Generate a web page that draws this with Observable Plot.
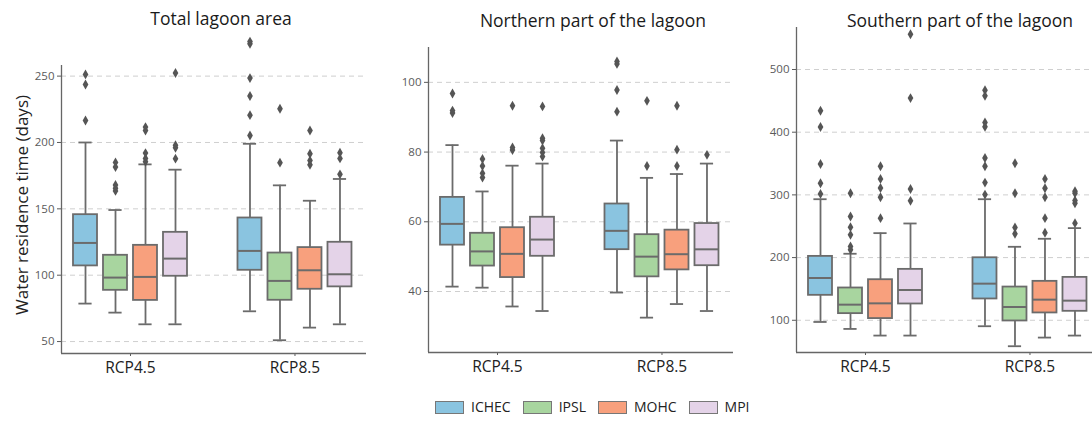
<!DOCTYPE html>
<html>
<head>
<meta charset="utf-8">
<script src="https://cdn.jsdelivr.net/npm/d3@7"></script>
<script src="https://cdn.jsdelivr.net/npm/@observablehq/plot@0.6"></script>
<style>
html, body { margin: 0; padding: 0; background: #fff; overflow: hidden; width: 1092px; height: 421px; }
body { position: relative; font-family: "Open Sans", sans-serif; }
.panel { position: absolute; top: 0; width: 366px; }
.panel svg { max-width: none !important; }
.title { position: absolute; font-size: 17.5px; line-height: 1; color: #1a1a1a; transform: translateX(-50%); white-space: nowrap; }
.ylabel { position: absolute; left: 21px; top: 205px; font-size: 17px; line-height: 1; color: #222; white-space: nowrap; transform: translate(-50%, -50%) rotate(-90deg); }
.legend { position: absolute; left: 435px; top: 400px; display: flex; align-items: center; gap: 12px; font-size: 14px; line-height: 1; color: #222; }
.legend .item { display: flex; align-items: center; gap: 7px; }
.legend .sw { width: 27px; height: 11px; border: 1.5px solid #777; }
</style>
</head>
<body>
<script>
// ---- categories ----
const scenarios = ["RCP4.5", "RCP8.5"];
const models = ["ICHEC", "IPSL", "MOHC", "MPI"];
const modelColors = ["#8ac4e0", "#a8d59f", "#f8a07d", "#e4d3e8"];

// ---- Total lagoon area (order: RCP4.5 ICHEC, IPSL, MOHC, MPI, RCP8.5 ICHEC, IPSL, MOHC, MPI) ----
const totalLow    = [78.6, 71.8, 63, 63, 72.8, 51, 60.5, 63];
const totalQ1     = [107, 88.6, 81, 99.2, 103.7, 81.1, 89.4, 91.2];
const totalMedian = [124.3, 98.2, 98.7, 112.5, 118.3, 95.7, 103.7, 100.7];
const totalQ3     = [145.6, 115, 122.5, 132.3, 143.1, 116.7, 120.8, 124.8];
const totalHigh   = [200, 149.1, 183.5, 179.5, 199, 167.7, 156.1, 172.5];
const totalOutliers = [
  [251.3, 243.7, 216.6], [185, 181.5, 168, 165.5, 163.5], [211.6, 209, 192, 188, 185.5], [252.3, 198, 196, 187.8],
  [276, 274.3, 248.5, 235, 220.6, 205.3], [225.4, 184.8], [209, 191.5, 186.5, 183.2], [192.3, 188, 176]
];
const totalTicks = [50, 100, 150, 200, 250];

// ---- Northern part ----
const northLow    = [41.4, 41.1, 35.7, 34.4, 39.7, 32.5, 36.4, 34.4];
const northQ1     = [53.3, 47.3, 44, 50.1, 52, 44.2, 46.2, 47.4];
const northMedian = [59.4, 51.5, 50.8, 54.9, 57.4, 50, 50.7, 52.1];
const northQ3     = [67, 56.7, 58.3, 61.3, 65.1, 56.3, 57.6, 59.5];
const northHigh   = [82, 68.7, 76.1, 76.7, 83.3, 72.6, 73.7, 76.7];
const northOutliers = [
  [96.8, 91.9, 91.2], [78, 76, 73.9, 72.7], [93.3, 81.3, 80.6], [93.1, 84, 83.3, 81.1, 79.9, 78.7],
  [106, 105.3, 97.8, 91.6], [94.7, 76], [93.3, 80.7, 76], [79.2]
];
const northTicks = [40, 60, 80, 100];

// ---- Southern part ----
const southLow    = [97.3, 86.2, 75.6, 75.6, 90.5, 58.6, 72.4, 75.6];
const southQ1     = [139.8, 110.6, 102.7, 126, 134, 98.9, 111.7, 114.3];
const southMedian = [167.4, 124.9, 127, 148.3, 158.4, 121.2, 132.9, 131.3];
const southQ3     = [201.9, 151.5, 164.7, 181.2, 199.7, 153, 162.1, 168.4];
const southHigh   = [293.1, 206.1, 239, 254.4, 293.1, 217.2, 230, 247];
const southOutliers = [
  [434.2, 408.2, 349.3, 318.6, 301.6], [302.7, 265.5, 248.5, 236.3, 217.8, 212.5], [345.6, 325.5, 311.1, 296.3, 262.9], [556.2, 454.4, 309.5, 290.5],
  [467, 458, 415.6, 408.8, 358.9, 345.6, 319.6, 300.5], [350.4, 302.7, 248, 237.9], [325.5, 310.6, 296.3, 262.9, 239.5], [305.8, 302.7, 291, 286.7, 254.9]
];
const southTicks = [100, 200, 300, 400, 500];

// ---- layout (scale configuration) ----
const GROUP_SPACING = 5.483;           // distance between scenario groups, in model steps
const xDomain = [-2.3, 7.867];
const BOX_HALF = 0.4, CAP_HALF = 0.22;
const EDGE = "#6b6b6b";

function makePanel(o) {
  const rows = [];
  scenarios.forEach((s, si) => models.forEach((m, mi) => {
    const k = si * models.length + mi;
    rows.push({scenario: s, model: m, x: si * GROUP_SPACING + mi - 1.5,
      low: o.low[k], q1: o.q1[k], median: o.median[k], q3: o.q3[k], high: o.high[k]});
  }));
  const pts = rows.flatMap((r, k) => o.outliers[k].map(v => ({x: r.x, value: v, model: r.model})));
  const groups = scenarios.map((s, i) => ({label: s, x: i * GROUP_SPACING}));
  return Plot.plot({
    width: 366, height: o.marginTop + o.plotHeight + 40,
    marginLeft: 61, marginRight: 0, marginTop: o.marginTop, marginBottom: 40,
    style: {fontFamily: "Open Sans, sans-serif", fontSize: "11.5px", color: "#5a5a5a", background: "transparent", overflow: "visible", maxWidth: "none"},
    x: {domain: xDomain, ticks: groups.map(g => g.x), tickFormat: () => "", tickSize: 3, label: null},
    y: {domain: o.yDomain, ticks: o.ticks, tickSize: 4, tickPadding: 3, label: null},
    color: {domain: models, range: modelColors},
    marks: [
      Plot.ruleY(o.ticks, {stroke: "#cfcfcf", strokeDasharray: "5,4", strokeWidth: 1}),
      Plot.ruleX(rows, {x: "x", y1: "q3", y2: "high", stroke: EDGE, strokeWidth: 1.8}),
      Plot.ruleX(rows, {x: "x", y1: "low", y2: "q1", stroke: EDGE, strokeWidth: 1.8}),
      Plot.ruleY(rows, {y: "high", x1: d => d.x - CAP_HALF, x2: d => d.x + CAP_HALF, stroke: EDGE, strokeWidth: 1.8}),
      Plot.ruleY(rows, {y: "low", x1: d => d.x - CAP_HALF, x2: d => d.x + CAP_HALF, stroke: EDGE, strokeWidth: 1.8}),
      Plot.rect(rows, {x1: d => d.x - BOX_HALF, x2: d => d.x + BOX_HALF, y1: "q1", y2: "q3", fill: "model", stroke: EDGE, strokeWidth: 1.8}),
      Plot.ruleY(rows, {y: "median", x1: d => d.x - BOX_HALF, x2: d => d.x + BOX_HALF, stroke: EDGE, strokeWidth: 2}),
      Plot.dot(pts, {x: "x", y: "value", symbol: "diamond", r: 3, fill: "#555", stroke: "none"}),
      Plot.ruleX([xDomain[0]], {stroke: "#666", strokeWidth: 1.3}),
      Plot.ruleY([o.yDomain[0]], {stroke: "#666", strokeWidth: 1.3}),
      Plot.text(groups, {x: "x", text: "label", frameAnchor: "bottom", dy: 19, fontSize: 15.5, fill: "#222"})
    ]
  });
}

function addDiv(cls, text, styles) {
  const d = document.createElement("div");
  d.className = cls; d.textContent = text;
  Object.assign(d.style, styles || {});
  document.body.appendChild(d);
  return d;
}

const panels = [
  {left: 0, title: "Total lagoon area", titleX: 221, titleTop: 10,
   low: totalLow, q1: totalQ1, median: totalMedian, q3: totalQ3, high: totalHigh, outliers: totalOutliers,
   yDomain: [41, 258], ticks: totalTicks, marginTop: 65, plotHeight: 288},
  {left: 367, title: "Northern part of the lagoon", titleX: 593, titleTop: 11.5,
   low: northLow, q1: northQ1, median: northMedian, q3: northQ3, high: northHigh, outliers: northOutliers,
   yDomain: [22.5, 110], ticks: northTicks, marginTop: 47, plotHeight: 305},
  {left: 735, title: "Southern part of the lagoon", titleX: 960, titleTop: 11.5,
   low: southLow, q1: southQ1, median: southMedian, q3: southQ3, high: southHigh, outliers: southOutliers,
   yDomain: [48.6, 567], ticks: southTicks, marginTop: 27, plotHeight: 325}
];

panels.forEach(p => {
  const wrap = document.createElement("div");
  wrap.className = "panel";
  wrap.style.left = p.left + "px";
  wrap.appendChild(makePanel(p));
  document.body.appendChild(wrap);
  addDiv("title", p.title, {left: p.titleX + "px", top: p.titleTop + "px"});
});

addDiv("ylabel", "Water residence time (days)");

const legend = document.createElement("div");
legend.className = "legend";
models.forEach((m, i) => {
  const item = document.createElement("div");
  item.className = "item";
  const sw = document.createElement("span");
  sw.className = "sw"; sw.style.background = modelColors[i];
  const t = document.createElement("span");
  t.textContent = m;
  item.appendChild(sw); item.appendChild(t);
  legend.appendChild(item);
});
document.body.appendChild(legend);
</script>
</body>
</html>
